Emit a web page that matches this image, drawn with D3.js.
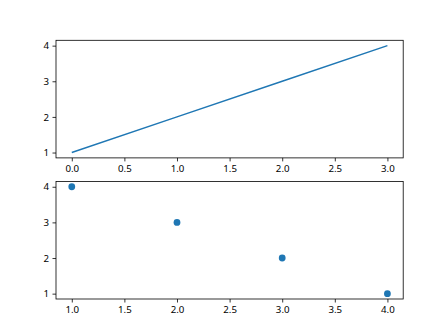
<!DOCTYPE html>
<html><head><meta charset="utf-8">
<script src="https://cdn.jsdelivr.net/npm/d3@7"></script>
<style>body{margin:0;background:#fff}svg{display:block}</style>
</head><body>
<script>
const lineX = [0, 1, 2, 3];
const lineY = [1, 2, 3, 4];
const scatterX = [1, 2, 3, 4];
const scatterY = [4, 3, 2, 1];
const topXTicks = [0, 0.5, 1, 1.5, 2, 2.5, 3];
const bottomXTicks = [1, 1.5, 2, 2.5, 3, 3.5, 4];
const yTicks = [1, 2, 3, 4];

const W = 448, H = 336;
const svg = d3.select("body").append("svg").attr("width", W).attr("height", H);
const left = 56, right = 403.2;
const axTop = 40.3, axBottom = 299;
const h = (axBottom - axTop) / 2.2, gap = h * 0.2;
const color = "#1f77b4";
const font = "'Noto Sans', 'DejaVu Sans', sans-serif";

function pad(arr) { const [a, b] = d3.extent(arr); const m = (b - a) * 0.05; return [a - m, b + m]; }

function panel(y0, xs, ys, xt, draw) {
  const x = d3.scaleLinear().domain(pad(xs)).range([left, right]);
  const y = d3.scaleLinear().domain(pad(ys)).range([y0 + h, y0]);
  const g = svg.append("g");
  draw(g, x, y);
  const xa = g.append("g").attr("transform", `translate(0,${y0 + h})`)
    .call(d3.axisBottom(x).tickValues(xt).tickFormat(d3.format(".1f")).tickSize(3.5).tickPadding(3.5));
  const ya = g.append("g").attr("transform", `translate(${left},0)`)
    .call(d3.axisLeft(y).tickValues(yTicks).tickFormat(d3.format("d")).tickSize(3.5).tickPadding(3.5));
  [xa, ya].forEach(a => {
    a.select(".domain").remove();
    a.selectAll("line").attr("stroke", "#000").attr("stroke-width", 0.8);
    a.selectAll("text").attr("fill", "#000").style("font-family", font).style("font-size", "9.7px");
  });
  g.append("rect").attr("x", left).attr("y", y0).attr("width", right - left).attr("height", h)
    .attr("fill", "none").attr("stroke", "#000").attr("stroke-width", 0.8);
}

panel(axTop, lineX, lineY, topXTicks, (g, x, y) => {
  g.append("path").datum(lineX.map((v, i) => [v, lineY[i]]))
    .attr("d", d3.line().x(d => x(d[0])).y(d => y(d[1])))
    .attr("fill", "none").attr("stroke", color).attr("stroke-width", 1.46);
});
panel(axTop + h + gap, scatterX, scatterY, bottomXTicks, (g, x, y) => {
  g.selectAll("circle").data(scatterX.map((v, i) => [v, scatterY[i]])).join("circle")
    .attr("cx", d => x(d[0])).attr("cy", d => y(d[1])).attr("r", 3.4).attr("fill", color);
});
</script>
</body></html>
